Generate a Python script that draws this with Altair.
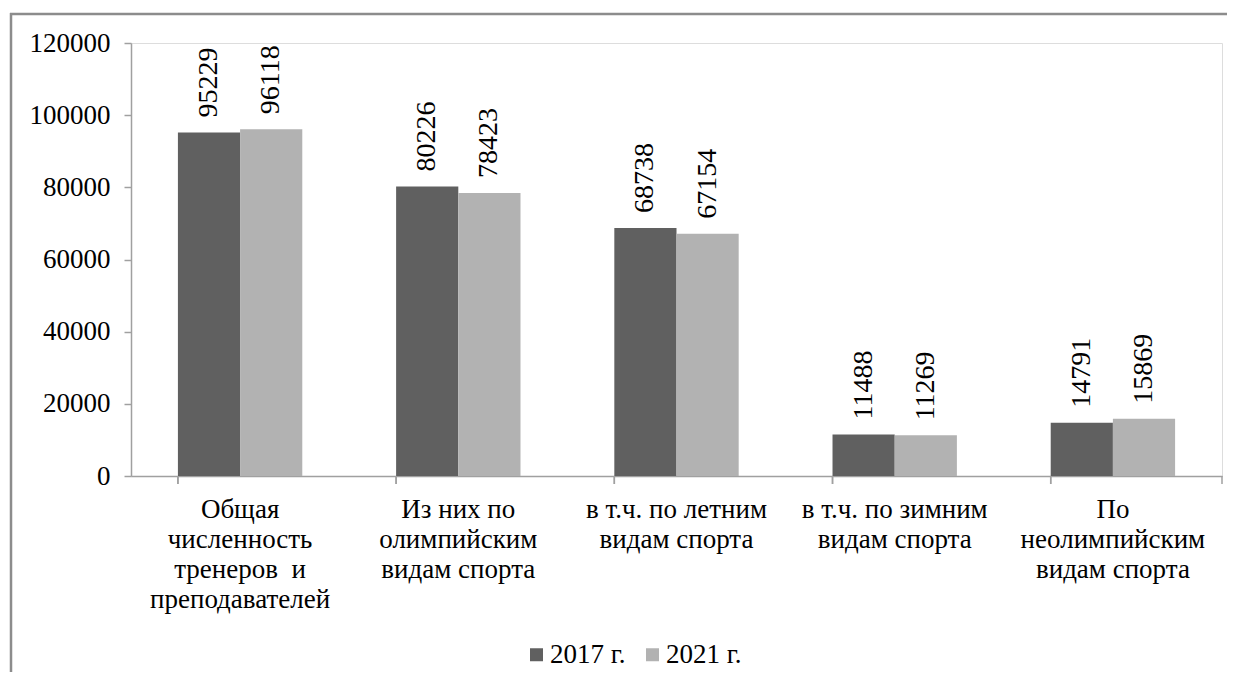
import altair as alt
import pandas as pd

categories = [
    "Общая\nчисленность\nтренеров\u00a0 и\nпреподавателей",
    "Из них по\nолимпийским\nвидам спорта",
    "в т.ч. по летним\nвидам спорта",
    "в т.ч. по зимним\nвидам спорта",
    "По\nнеолимпийским\nвидам спорта",
]
years = ["2017 г.", "2021 г."]
values_2017 = [95229, 80226, 68738, 11488, 14791]
values_2021 = [96118, 78423, 67154, 11269, 15869]
y_ticks = [0, 20000, 40000, 60000, 80000, 100000, 120000]
colors = ["#606060", "#b2b2b2"]

rows = []
for c, v in zip(categories, values_2017):
    rows.append({"cat": c, "year": years[0], "value": v})
for c, v in zip(categories, values_2021):
    rows.append({"cat": c, "year": years[1], "value": v})
df = pd.DataFrame(rows)

FONT = "Liberation Serif, Times New Roman, serif"
AXC = "#a0a0a0"
W, H = 1091, 433
PB = 196

x_axis = alt.Axis(
    title=None, labelAngle=0, ticks=False, domainColor=AXC, domainWidth=1.5,
    labelFont=FONT, labelFontSize=27, labelColor="black", labelLineHeight=30,
    labelPadding=20, labelLimit=400, labelBaseline="top",
    labelExpr="split(datum.label, '\\n')",
)
x_enc = alt.X("cat:N", sort=categories, axis=x_axis,
              scale=alt.Scale(paddingInner=0.43, paddingOuter=0.215))

base = alt.Chart(df)

bars = base.mark_bar().encode(
    x=x_enc,
    xOffset=alt.XOffset("year:N", sort=years, scale=alt.Scale(paddingInner=0, paddingOuter=0)),
    y=alt.Y("value:Q", scale=alt.Scale(domain=[0, 120000], nice=False),
            axis=alt.Axis(title=None, values=y_ticks, format="d", grid=False,
                          domainColor=AXC, domainWidth=1.5, tickColor=AXC, tickSize=7,
                          tickWidth=1.5, labelFont=FONT, labelFontSize=27,
                          labelColor="black", labelPadding=14)),
    color=alt.Color("year:N", sort=years, scale=alt.Scale(domain=years, range=colors),
                    legend=alt.Legend(title=None, orient="none", legendX=392, legendY=598,
                                      direction="horizontal", symbolType="square",
                                      symbolSize=169, symbolStrokeWidth=0,
                                      labelFont=FONT, labelFontSize=27, labelColor="black",
                                      labelOffset=0, columnPadding=13, padding=0)),
)

labels = base.mark_text(angle=270, align="left", baseline="middle", dx=15,
                        font=FONT, fontSize=28, color="black").encode(
    x=x_enc,
    xOffset=alt.XOffset("year:N", sort=years),
    y=alt.Y("value:Q"),
    text=alt.Text("value:Q", format="d"),
)

ticks = base.mark_rule(color=AXC, strokeWidth=1.5).encode(
    x=alt.X("cat:N", sort=categories, bandPosition=0, axis=x_axis,
            scale=alt.Scale(paddingInner=0.43, paddingOuter=0.215)),
    y=alt.value(H), y2=alt.value(H + 8),
)

end_tick = alt.Chart(alt.Data(values=[{}])).mark_rule(color=AXC, strokeWidth=1.5).encode(
    x=alt.value(W), y=alt.value(H), y2=alt.value(H + 8),
)

frame_top = alt.Chart(alt.Data(values=[{}])).mark_rule(
    color="#8c8c8c", strokeWidth=2.5).encode(
    x=alt.value(-121), x2=alt.value(W + 40), y=alt.value(-29),
)
frame_left = alt.Chart(alt.Data(values=[{}])).mark_rule(
    color="#8c8c8c", strokeWidth=2.5).encode(
    x=alt.value(-120), y=alt.value(-30), y2=alt.value(H + PB + 40),
)

chart = alt.layer(frame_top, frame_left, bars, labels, ticks, end_tick).properties(
    width=W, height=H,
    autosize=alt.AutoSizeParams(type="none"),
    padding={"left": 123, "top": 35, "right": 5, "bottom": PB},
).configure_view(stroke=None).configure(background="white")

chart.save("out.html", embed_options={"renderer": "svg", "actions": False})
